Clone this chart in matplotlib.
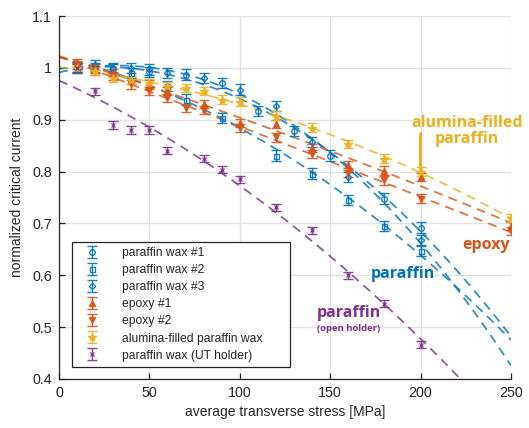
import numpy as np
import matplotlib
matplotlib.use("Agg")
import matplotlib.pyplot as plt

# ---------------- data ----------------
p1_x = [10, 30, 50, 70, 90, 110, 130, 150, 180, 200]
p1_y = [1.000, 0.998, 0.992, 0.987, 0.971, 0.917, 0.878, 0.831, 0.748, 0.692]

p2_x = [10, 20, 40, 60, 70, 90, 120, 140, 160, 180, 200]
p2_y = [1.000, 1.000, 0.990, 0.965, 0.939, 0.903, 0.831, 0.796, 0.745, 0.695, 0.647]

p3_x = [10, 20, 30, 40, 50, 60, 80, 100, 120, 140, 160, 200]
p3_y = [1.002, 1.006, 1.000, 1.000, 0.997, 0.990, 0.980, 0.958, 0.927, 0.857, 0.790, 0.668]

e1_x = [10, 20, 30, 40, 50, 60, 80, 100, 120, 140, 160, 180, 200, 250]
e1_y = [1.010, 1.000, 0.990, 0.977, 0.968, 0.955, 0.930, 0.894, 0.892, 0.845, 0.812, 0.802, 0.790, 0.695]

e2_x = [10, 20, 30, 40, 50, 60, 70, 80, 100, 120, 140, 160, 180, 200, 250]
e2_y = [1.005, 0.995, 0.985, 0.968, 0.955, 0.942, 0.923, 0.919, 0.884, 0.866, 0.834, 0.798, 0.783, 0.748, 0.685]

al_x = [10, 20, 30, 40, 50, 60, 70, 80, 90, 100, 120, 140, 160, 180, 200, 250]
al_y = [1.000, 0.994, 0.981, 0.977, 0.970, 0.965, 0.961, 0.955, 0.939, 0.935, 0.908, 0.885, 0.853, 0.825, 0.800, 0.711]

ut_x = [10, 20, 30, 40, 50, 60, 80, 90, 100, 120, 140, 160, 180, 200]
ut_y = [1.000, 0.955, 0.890, 0.880, 0.880, 0.840, 0.825, 0.804, 0.785, 0.731, 0.687, 0.600, 0.545, 0.466]

err_blue = 0.010
err_other = 0.008
err_ut = 0.007

labels = ["paraffin wax #1", "paraffin wax #2", "paraffin wax #3",
          "epoxy #1", "epoxy #2", "alumina-filled paraffin wax",
          "paraffin wax (UT holder)"]

x_ticks = [0, 50, 100, 150, 200, 250]
y_ticks = [0.4, 0.5, 0.6, 0.7, 0.8, 0.9, 1.0, 1.1]
y_ticklabels = ["0.4", "0.5", "0.6", "0.7", "0.8", "0.9", "1", "1.1"]

# ---------------- style ----------------
BLUE = "#0072BD"
ORANGE = "#D95319"
YELLOW = "#EDB120"
PURPLE = "#7E2F8E"
DARK = "#262626"

plt.rcParams["font.family"] = ["Liberation Sans", "DejaVu Sans"]

fig = plt.figure(figsize=(5.29, 4.28), dpi=100)
ax = fig.add_axes([0.1115, 0.1145, 0.8544, 0.848])

series = [
    (p1_x, p1_y, err_blue, BLUE, "o", "none", 4.0),
    (p2_x, p2_y, err_blue, BLUE, "s", "none", 3.6),
    (p3_x, p3_y, err_blue, BLUE, "D", "none", 3.2),
    (e1_x, e1_y, err_other, ORANGE, "^", ORANGE, 4.0),
    (e2_x, e2_y, err_other, ORANGE, "v", ORANGE, 4.0),
    (al_x, al_y, err_other, YELLOW, "*", YELLOW, 6.0),
    (ut_x, ut_y, err_ut, PURPLE, "x", PURPLE, 3.0),
]

xfit = np.linspace(0, 250, 300)
handles = []
for (xs, ys, e, c, m, mfc, ms), lab in zip(series, labels):
    xs = np.asarray(xs, float)
    ys = np.asarray(ys, float)
    coef = np.polyfit(xs, ys, 2)
    ax.plot(xfit, np.polyval(coef, xfit), color=c, lw=1.3, ls=(0, (5, 3.5)),
            alpha=0.8, zorder=2)
    h = ax.errorbar(xs, ys, yerr=np.full_like(ys, e), fmt=m, color=c,
                    mfc=mfc, mec=c, ms=ms, mew=1.0, elinewidth=1.0,
                    capsize=3.5, capthick=1.0, label=lab, zorder=3, alpha=0.9)
    handles.append(h)

ax.set_xlim(0, 250)
ax.set_ylim(0.4, 1.1)
ax.set_xticks(x_ticks)
ax.set_yticks(y_ticks)
ax.set_yticklabels(y_ticklabels)
ax.grid(True, color="#E3E3E3", lw=1.0)
ax.set_axisbelow(True)
for s in ["top", "right"]:
    ax.spines[s].set_visible(False)
for s in ["left", "bottom"]:
    ax.spines[s].set_color(DARK)
    ax.spines[s].set_linewidth(0.9)
ax.tick_params(direction="in", length=4, width=0.9, colors=DARK,
               labelsize=10.3, pad=5)

ax.set_xlabel("average transverse stress [MPa]", fontsize=10, color=DARK, labelpad=4)
ax.set_ylabel("normalized critical current", fontsize=10, color=DARK, labelpad=6)

leg = ax.legend(handles=handles, loc="lower left",
                bbox_to_anchor=(0.029, 0.033, 0.482, 0.344), mode="expand",
                borderaxespad=0, fancybox=False, framealpha=1, edgecolor=DARK,
                fontsize=8.7, handlelength=2.4, handletextpad=1.3,
                labelspacing=0.42, borderpad=0.45)
leg.get_frame().set_linewidth(0.9)
for t in leg.get_texts():
    t.set_color(DARK)

# annotations
bold = dict(family=["Open Sans", "DejaVu Sans"], fontweight="bold")
ax.text(225.8, 0.879, "alumina-filled\nparaffin", color=YELLOW, fontsize=11.5,
        ha="center", va="center", linespacing=1.0, **bold)
ax.annotate("", xy=(200, 0.798), xytext=(200, 0.878),
            arrowprops=dict(arrowstyle="-", color=YELLOW, lw=2.2))
ax.text(236.2, 0.659, "epoxy", color=ORANGE, fontsize=11.5, ha="center",
        va="center", **bold)
ax.text(190.3, 0.603, "paraffin", color=BLUE, fontsize=11.5, ha="center",
        va="center", **bold)
ax.text(160.1, 0.528, "paraffin", color=PURPLE, fontsize=11.5, ha="center",
        va="center", **bold)
ax.text(142.7, 0.497, "(open holder)", color=PURPLE, fontsize=6.8, ha="left",
        va="center", **bold)

fig.savefig("out.png", dpi=100)
